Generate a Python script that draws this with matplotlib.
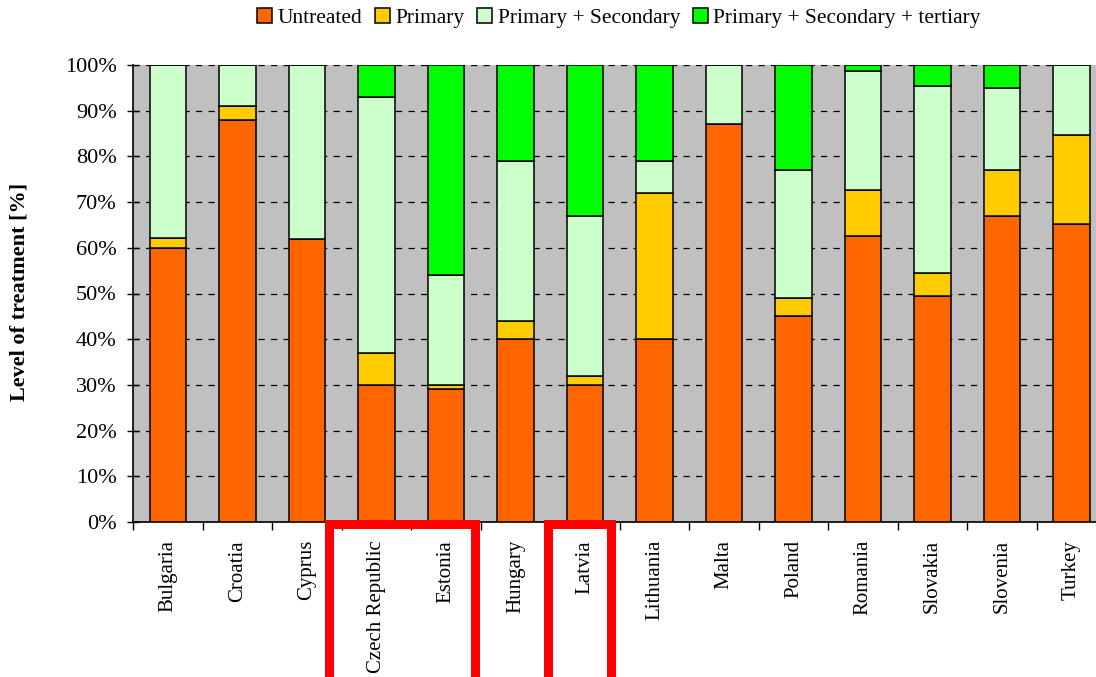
import numpy as np
import matplotlib.pyplot as plt
from matplotlib.patches import Rectangle

plt.rcParams['font.family'] = ['Liberation Serif', 'DejaVu Serif']

# data: share of each treatment level (%)
countries = ["Bulgaria", "Croatia", "Cyprus", "Czech Republic", "Estonia", "Hungary",
             "Latvia", "Lithuania", "Malta", "Poland", "Romania", "Slovakia",
             "Slovenia", "Turkey"]
untreated = [60, 88, 62, 30, 29, 40, 30, 40, 87, 45, 62.6, 49.4, 67, 65.2]
primary = [2.2, 3, 0, 7, 1, 4, 2, 32, 0, 4, 10.1, 5.1, 10, 19.5]
prim_sec = [37.8, 9, 38, 56, 24, 35, 35, 7, 13, 28, 26, 41, 18, 15.3]
prim_sec_ter = [0, 0, 0, 7, 46, 21, 33, 21, 0, 23, 1.3, 4.5, 5, 0]

series = [untreated, primary, prim_sec, prim_sec_ter]
labels = ["Untreated", "Primary", "Primary + Secondary", "Primary + Secondary + tertiary"]
colors = ["#FF6600", "#FFCC00", "#CCFFCC", "#00FF00"]

W, H = 1096, 677
fig = plt.figure(figsize=(W / 100, H / 100), dpi=100)
slot = 69.5
left = 133.3
ax = fig.add_axes([left / W, 1 - 522 / H, 14 * slot / W, (522 - 65) / H])
ax.set_facecolor("#C0C0C0")

x = np.arange(len(countries))
bottom = np.zeros(len(countries))
for vals, lab, col in zip(series, labels, colors):
    vals = np.array(vals, dtype=float)
    ax.bar(x, vals, width=0.52, bottom=bottom, color=col, edgecolor="black",
           linewidth=1.1, label=lab, zorder=3)
    bottom += vals

ax.set_xlim(-0.5, len(countries) - 0.5)
ax.set_ylim(0, 100)
ax.set_yticks(np.arange(0, 101, 10))
ax.set_yticklabels([f"{v}%" for v in range(0, 101, 10)], fontsize=16)
ax.yaxis.grid(True, color="black", linestyle=(0, (5, 5)), linewidth=0.9, zorder=1)
ax.tick_params(axis="y", direction="inout", length=8, width=1, pad=8)

ax.set_xticks(x)
ax.set_xticklabels(countries, rotation=90, fontsize=15)
ax.set_xticks(np.arange(-0.5, len(countries), 1), minor=True)
ax.tick_params(axis="x", which="major", length=0, pad=13)
ax.tick_params(axis="x", which="minor", direction="out", length=6, width=1)

for s in ["top", "right"]:
    ax.spines[s].set_visible(False)
for s in ["left", "bottom"]:
    ax.spines[s].set_linewidth(1.2)

fig.text(20 / W, 1 - 292 / H, "Level of treatment [%]", rotation=90, fontsize=16,
         fontweight="bold", ha="center", va="center")

handles, labs = ax.get_legend_handles_labels()
fig.legend(handles, labs, loc="center", bbox_to_anchor=(619 / W, 1 - 18 / H), ncol=4,
           frameon=False, fontsize=15.4, handlelength=0.7, handleheight=0.7,
           handletextpad=0.25, columnspacing=0.6, borderaxespad=0)

# red highlight boxes
def px_box(x0, x1, y_top):
    return Rectangle((x0 / W, 1 - 720 / H), (x1 - x0) / W, (720 - y_top) / H,
                     transform=fig.transFigure, fill=False, edgecolor="#FF0000",
                     linewidth=6.5, clip_on=False, zorder=10)

fig.patches.append(px_box(328.5, 475, 523.5))
fig.patches.append(px_box(547.5, 610.5, 523.5))

fig.savefig("out.png", dpi=100)
